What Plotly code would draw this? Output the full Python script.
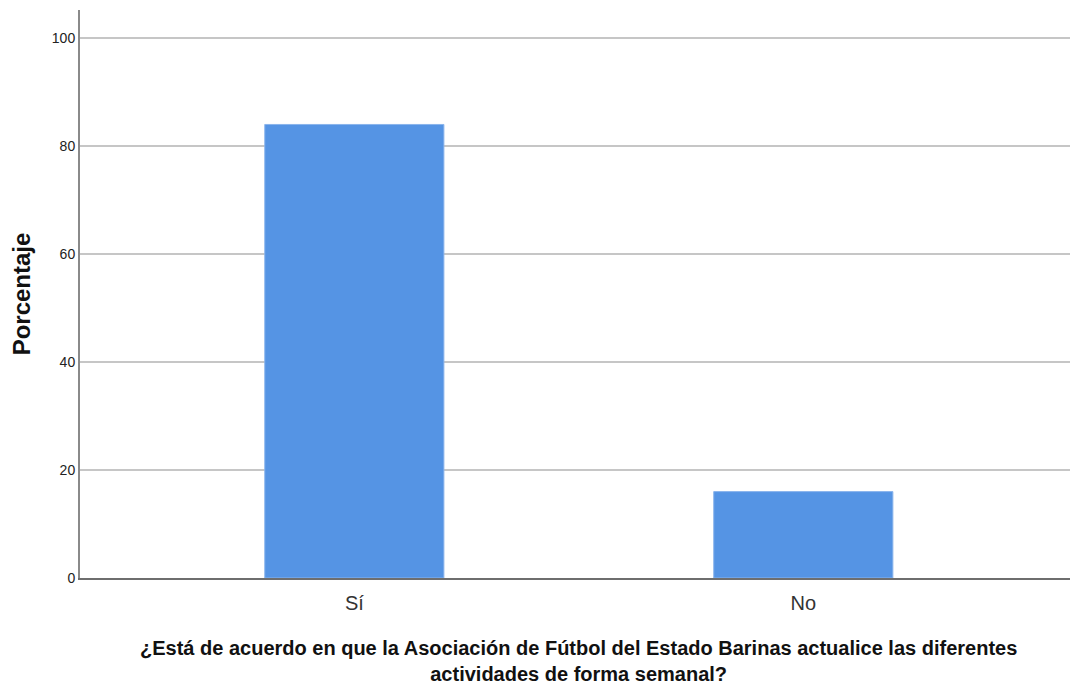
import plotly.graph_objects as go

categories = ["Sí", "No"]
percentages = [84.0, 16.0]
y_ticks = [0, 20, 40, 60, 80, 100]
x_title_lines = [
    "¿Está de acuerdo en que la Asociación de Fútbol del Estado Barinas actualice las diferentes",
    "actividades de forma semanal?",
]
y_title = "Porcentaje"

x_pos = list(range(len(categories)))
FONT = "Liberation Sans, Arial, sans-serif"

fig = go.Figure()
fig.add_trace(go.Bar(
    x=x_pos, y=percentages, width=0.399,
    marker=dict(color="#5594e4", line=dict(color="#8ab4ec", width=1)),
    hoverinfo="skip",
))

plot_top, plot_bottom = 10, 578
plot_h = plot_bottom - plot_top
fig.add_annotation(
    text="<b>" + "<br>".join(x_title_lines) + "</b>", xref="paper", yref="paper",
    x=0.504, y=-(661 - plot_bottom) / plot_h,
    xanchor="center", yanchor="middle", showarrow=False,
    font=dict(family=FONT, size=20, color="#111"),
)

fig.update_layout(
    width=1070, height=688,
    margin=dict(l=80, r=0, t=plot_top, b=688 - plot_bottom),
    paper_bgcolor="white", plot_bgcolor="white",
    showlegend=False,
    font=dict(family=FONT, color="#222"),
    xaxis=dict(
        range=[-0.611, 1.594], tickvals=x_pos, ticktext=categories,
        showgrid=False, zeroline=False,
        showline=True, linecolor="#6e6e6e", linewidth=2,
        ticks="", tickfont=dict(size=20, color="#333"),
        ticklabelstandoff=6,
    ),
    yaxis=dict(
        range=[0, 105.2], tickvals=y_ticks,
        showgrid=True, gridcolor="#c6c6c6", gridwidth=1.5,
        zeroline=False, showline=True, linecolor="#8a8a8a", linewidth=2,
        ticks="", tickfont=dict(size=14, color="#222"),
        title=dict(text="<b>" + y_title + "</b>", font=dict(size=24, color="#111"), standoff=14),
    ),
)

fig.write_html(
    "out.html",
    config={"displayModeBar": False},
    post_script="document.body.style.margin='0';document.body.style.padding='0';",
)
